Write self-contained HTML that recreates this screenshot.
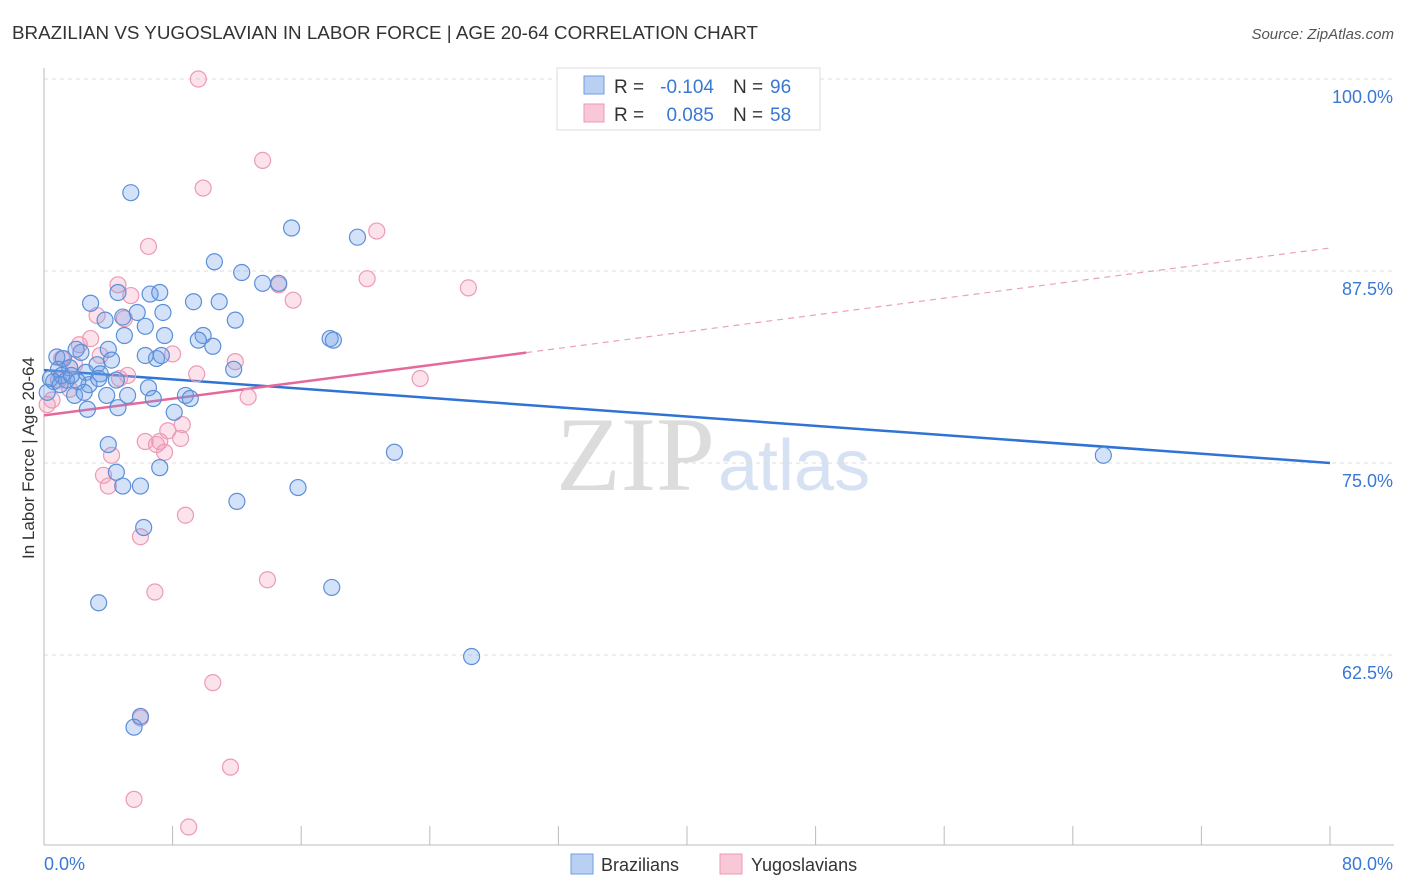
<!DOCTYPE html>
<html><head><meta charset="utf-8">
<style>
body{margin:0;background:#fff;font-family:"Liberation Sans",sans-serif;}
svg{display:block}
</style></head>
<body>
<svg id="chart" width="1406" height="892">
  <text x="12" y="39" font-size="18" fill="#333" textLength="746" lengthAdjust="spacingAndGlyphs">BRAZILIAN VS YUGOSLAVIAN IN LABOR FORCE | AGE 20-64 CORRELATION CHART</text>
  <text x="1394" y="39" font-size="15" fill="#555" font-style="italic" text-anchor="end">Source: ZipAtlas.com</text>
  <text x="715" y="490" font-size="106" fill="#dcdcdc" text-anchor="end" font-family="Liberation Serif,serif">ZIP</text>
  <text x="718" y="490" font-size="72" fill="#d6e2f3">atlas</text>
  <g id="grid"></g>
  <g id="axes"></g>
  <g id="lines"></g>
  <g id="points"></g>
  <text x="34" y="458" font-size="17" fill="#333" text-anchor="middle" transform="rotate(-90 34 458)">In Labor Force | Age 20-64</text>
  <g font-size="19">
    <rect x="557" y="68" width="263" height="62" fill="#fff" stroke="#ddd"/>
    <rect x="584" y="76" width="20" height="18" fill="#b9d0f3" stroke="#6f9de0"/>
    <rect x="584" y="104" width="20" height="18" fill="#f9c8d6" stroke="#eb9ab5"/>
    <text x="614" y="93" fill="#333">R =</text>
    <text x="714" y="93" fill="#3a78d4" text-anchor="end">-0.104</text>
    <text x="733" y="93" fill="#333">N =</text>
    <text x="770" y="93" fill="#3a78d4">96</text>
    <text x="614" y="121" fill="#333">R =</text>
    <text x="714" y="121" fill="#3a78d4" text-anchor="end">0.085</text>
    <text x="733" y="121" fill="#333">N =</text>
    <text x="770" y="121" fill="#3a78d4">58</text>
  </g>
  <g>
    <rect x="571" y="854" width="22" height="20" fill="#b9d0f3" stroke="#6f9de0"/>
    <text x="601" y="871" font-size="18" fill="#333">Brazilians</text>
    <rect x="720" y="854" width="22" height="20" fill="#f9c8d6" stroke="#eb9ab5"/>
    <text x="751" y="871" font-size="18" fill="#333">Yugoslavians</text>
  </g>
</svg>
<script>
const yTicks=[100,87.5,75,62.5];
const yTickLabels=["100.0%","87.5%","75.0%","62.5%"];
const blueX=[5.4,15.4,19.5,10.6,12.3,13.6,14.6,2.9,4.6,6.6,7.2,9.3,10.9,11.9,3.8,4.9,5.8,7.4,6.3,7.5,9.9,9.6,10.5,5.0,2.3,4.0,2.0,0.8,1.2,3.3,4.2,7.0,6.3,7.3,11.8,17.8,18.0,0.9,1.6,2.6,3.5,4.5,0.6,1.4,2.8,3.4,0.2,1.9,2.5,3.9,5.2,6.5,6.8,8.8,9.1,4.6,2.7,8.1,4.0,21.8,65.9,7.2,4.5,4.9,6.0,15.8,12.0,6.2,3.4,17.9,26.6,6.0,5.6,0.4,1.1,2.1,1.0,1.7];
const blueY=[92.6,90.3,89.7,88.1,87.4,86.7,86.7,85.4,86.1,86.0,86.1,85.5,85.5,84.3,84.3,84.5,84.8,84.8,83.9,83.3,83.3,83.0,82.6,83.3,82.2,82.4,82.4,81.9,81.8,81.4,81.7,81.8,82.0,82.0,81.1,83.1,83.0,81.1,81.2,80.9,80.8,80.4,80.3,80.4,80.1,80.5,79.6,79.4,79.6,79.4,79.4,79.9,79.2,79.4,79.2,78.6,78.5,78.3,76.2,75.7,75.5,74.7,74.4,73.5,73.5,73.4,72.5,70.8,65.9,66.9,62.4,58.5,57.8,80.5,80.7,80.3,80.1,80.7];
const pinkX=[9.6,13.6,9.9,20.7,6.5,20.1,4.6,5.4,15.5,14.6,26.4,3.3,5.0,2.9,8.0,3.5,11.9,9.5,23.4,5.2,1.1,1.9,0.9,1.6,0.5,12.7,8.6,7.7,8.5,6.3,7.0,7.2,7.5,4.2,3.7,4.0,8.8,6.0,13.9,6.9,10.5,6.0,11.6,5.6,9.0,0.2,2.2,4.7];
const pinkY=[100,94.7,92.9,90.1,89.1,87.0,86.6,85.9,85.6,86.6,86.4,84.6,84.4,83.1,82.1,82.0,81.6,80.8,80.5,80.7,81.8,81.4,80.4,79.8,79.1,79.3,77.5,77.1,76.6,76.4,76.2,76.4,75.7,75.5,74.2,73.5,71.6,70.2,67.4,66.6,60.7,58.4,55.2,53.1,51.3,78.8,82.7,80.5];
const blueTrend=[81.05,75.0];
const pinkTrend=[78.1,89.0];
const pinkSolidEnd=30;

const NS="http://www.w3.org/2000/svg";
const X0=44,X1=1330,Y100=79,PXPER=15.36;
function sx(v){return X0+(v/80)*(X1-X0);}
function sy(v){return Y100+(100-v)*PXPER;}
function mk(tag,attrs,parent){const e=document.createElementNS(NS,tag);for(const k in attrs)e.setAttribute(k,attrs[k]);parent.appendChild(e);return e;}
const grid=document.getElementById('grid'),axes=document.getElementById('axes'),lines=document.getElementById('lines'),pts=document.getElementById('points');
yTicks.forEach((t,i)=>{
  const l=mk('line',{x1:X0,x2:1394,y1:sy(t),y2:sy(t),stroke:'#ddd','stroke-dasharray':'4,4'},grid);
  
  
  const tx=mk('text',{x:1393,y:sy(t)+24,'font-size':18,fill:'#3a78d4','text-anchor':'end'},axes);
  tx.textContent=yTickLabels[i];
  
  
});
let a=mk('line',{x1:X0,x2:X0,y1:68,y2:845,stroke:'#bbb'},axes);


a=mk('line',{x1:X0,x2:1394,y1:845,y2:845,stroke:'#bbb'},axes);


for(let i=0;i<=10;i++){
  const t=mk('line',{x1:sx(i*8),x2:sx(i*8),y1:826,y2:845,stroke:'#bbb'},axes);
  
  
}
let xl=mk('text',{x:44,y:870,'font-size':18,fill:'#3a78d4'},axes);xl.textContent='0.0%';


xl=mk('text',{x:1393,y:870,'font-size':18,fill:'#3a78d4','text-anchor':'end'},axes);xl.textContent='80.0%';



function dot(x,y,fill,stroke,name){
  const c=mk('circle',{cx:sx(x),cy:sy(y),r:8,fill:fill,stroke:stroke,'stroke-width':1.2},pts);
  
  
}
pinkX.forEach((x,i)=>dot(x,pinkY[i],'rgba(244,160,188,0.3)','#ec9ab6','yugoslavian-point'));
blueX.forEach((x,i)=>dot(x,blueY[i],'rgba(110,160,232,0.3)','#5b8fd8','brazilian-point'));

let bl=mk('line',{x1:sx(0),y1:sy(blueTrend[0]),x2:sx(80),y2:sy(blueTrend[1]),stroke:'#2f74d4','stroke-width':2.5},lines);


const pAt=v=>pinkTrend[0]+(pinkTrend[1]-pinkTrend[0])*v/80;
let pl=mk('line',{x1:sx(0),y1:sy(pAt(0)),x2:sx(pinkSolidEnd),y2:sy(pAt(pinkSolidEnd)),stroke:'#e5689a','stroke-width':2.5},lines);


let pd=mk('line',{x1:sx(pinkSolidEnd),y1:sy(pAt(pinkSolidEnd)),x2:sx(80),y2:sy(pAt(80)),stroke:'#eaa0bc','stroke-width':1.2,'stroke-dasharray':'6,5'},lines);


</script>
</body></html>
